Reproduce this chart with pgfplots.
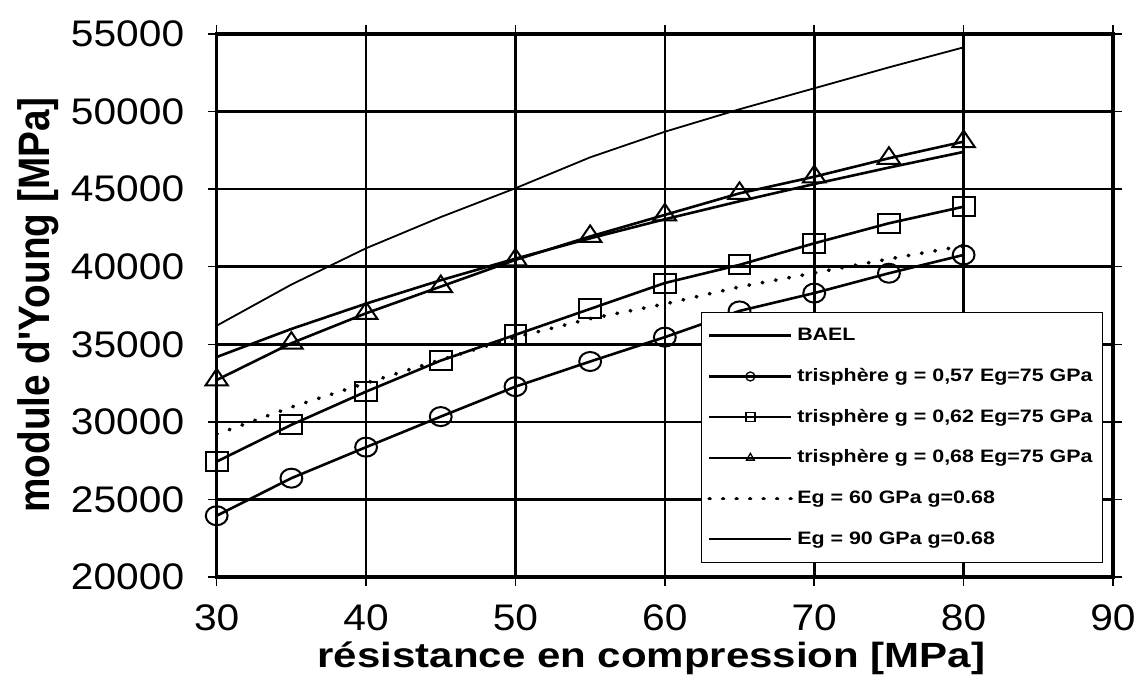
\documentclass[border=0pt]{standalone}
\usepackage{fontspec}
\setmainfont{Liberation Sans}
\newfontfamily\tickfont[FakeStretch=1.1]{Liberation Sans}
\newfontfamily\legfont[FakeStretch=1.19]{Liberation Sans Bold}
\newfontfamily\xlabfont[FakeStretch=1.2]{Liberation Sans Bold}
\newfontfamily\ylabfont[FakeStretch=0.88]{Liberation Sans Bold}
\usepackage{pgfplots}
\pgfplotsset{compat=1.18}

\begin{document}
\begin{tikzpicture}
% fixed page frame around the plot area
\useasboundingbox (-216.7pt,-98pt) rectangle (928.3pt,577pt);
\begin{axis}[
  at={(0pt,0pt)}, anchor=south west,
  scale only axis, width=896.3pt, height=543pt,
  xmin=30, xmax=90, ymin=20000, ymax=55000,
  xtick={30,40,...,90}, ytick={20000,25000,...,55000},
  scaled y ticks=false,
  /pgf/number format/1000 sep={},
  /pgf/number format/assume math mode=true,
  ticklabel style={font=\tickfont\fontsize{37}{38}\selectfont},
  yticklabel style={xshift=-20pt},
  xticklabel style={inner sep=0pt, yshift=-18pt},
  grid=major,
  major grid style={line width=2.6pt, black},
  axis line style={line width=3.2pt, black},
  tick align=outside, major tick length=9pt,
  tick style={line width=1.5pt, black},
  xlabel={résistance en compression [MPa]},
  ylabel={module d'Young [MPa]},
  xlabel style={font=\xlabfont\fontsize{35}{36}\selectfont, inner sep=0pt,
                at={(axis description cs:0.485,-0.167)}, anchor=base},
  ylabel style={font=\ylabfont\fontsize{44}{45}\selectfont, inner sep=0pt,
                at={(axis description cs:-0.186,0.501)}, anchor=base},
  legend cell align=left,
  legend image code/.code={%
    \draw[mark repeat=2,mark phase=2,#1]
      plot coordinates {(0pt,0pt) (41pt,0pt) (82pt,0pt)};},
  legend image post style={mark size=4.5pt,
    mark options={solid, fill=white, line width=1.3pt}},
  legend style={at={(rel axis cs:0.989,0.026)}, anchor=south east,
    draw=black, line width=1.2pt, fill=white,
    font=\legfont\fontsize{18}{19}\selectfont,
    row sep=16.7pt, inner xsep=6pt, inner ysep=11pt,
    nodes={inner xsep=4pt, inner ysep=3pt, text height=14pt, text depth=4pt}},
]

% BAEL
\addplot[black, line width=2.6pt] coordinates {
  (30,34180) (35,35990) (40,37620) (45,39130) (50,40520) (55,41830)
  (60,43060) (65,44220) (70,45330) (75,46390) (80,47400)};
\addlegendentry{BAEL}

% trisphere g = 0.57
\addplot[black, line width=2.6pt, mark=o,
  mark size=9.5pt, mark options={solid, fill=white, line width=2pt, xscale=1.15}] coordinates {
  (30,23950) (35,26370) (40,28370) (45,30340) (50,32270) (55,33890)
  (60,35460) (65,37150) (70,38300) (75,39580) (80,40760)};
\addlegendentry{trisphère g = 0,57 Eg=75 GPa}

% trisphere g = 0.62
\addplot[black, line width=2.6pt, mark=square,
  mark size=9.5pt, mark options={solid, fill=white, line width=2pt, xscale=1.15}] coordinates {
  (30,27440) (35,29810) (40,31950) (45,33950) (50,35610) (55,37280)
  (60,38950) (65,40120) (70,41510) (75,42800) (80,43870)};
\addlegendentry{trisphère g = 0,62 Eg=75 GPa}

% trisphere g = 0.68
\addplot[black, line width=2.6pt, mark=triangle,
  mark size=13pt, mark options={solid, fill=white, line width=2pt, yscale=0.85}] coordinates {
  (30,32700) (35,35070) (40,37000) (45,38720) (50,40440) (55,41950)
  (60,43340) (65,44730) (70,45800) (75,46990) (80,48060)};
\addlegendentry{trisphère g = 0,68 Eg=75 GPa}

% Eg = 60 GPa
\addplot[black, line width=3.8pt, line cap=round, dash pattern=on 0.5pt off 13pt] coordinates {
  (30,29200) (35,30950) (40,32500) (45,34000) (50,35450) (55,36650)
  (60,37600) (65,38700) (70,39600) (75,40500) (80,41350)};
\addlegendentry{Eg = 60 GPa g=0.68}

% Eg = 90 GPa
\addplot[black, line width=1.8pt] coordinates {
  (30,36200) (35,38850) (40,41190) (45,43200) (50,45060) (55,47050)
  (60,48700) (65,50150) (70,51500) (75,52850) (80,54140)};
\addlegendentry{Eg = 90 GPa g=0.68}

\end{axis}
\end{tikzpicture}
\end{document}
